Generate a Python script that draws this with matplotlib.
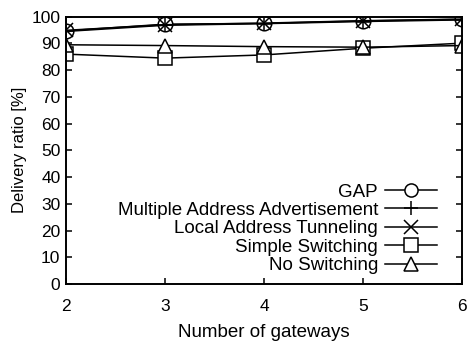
import matplotlib
matplotlib.use("Agg")
import matplotlib.pyplot as plt

plt.rcParams['font.family'] = ['Liberation Sans', 'DejaVu Sans']

# Number of gateways and delivery ratio per scheme
gateways = [2, 3, 4, 5, 6]
gap = [94.7, 97.2, 97.5, 98.4, 99.0]
multi_addr = [94.5, 96.8, 97.4, 98.2, 98.8]
local_tunnel = [94.9, 97.0, 97.6, 98.5, 99.1]
simple_switch = [86.0, 84.5, 85.7, 88.2, 90.1]
no_switch = [89.5, 89.2, 88.8, 88.6, 89.2]

labels = ['GAP', 'Multiple Address Advertisement', 'Local Address Tunneling',
          'Simple Switching', 'No Switching']
markers = ['o', '+', 'x', 's', '^']
series = [gap, multi_addr, local_tunnel, simple_switch, no_switch]

W, H = 471, 342
left, right, bottom, top = 66, 462, 284, 16.7
fig = plt.figure(figsize=(W / 100, H / 100), dpi=100)
ax = fig.add_axes([left / W, 1 - bottom / H, (right - left) / W, (bottom - top) / H])

for vals, m, lab in zip(series, markers, labels):
    ax.plot(gateways, vals, color='black', linewidth=1.1, marker=m, markersize=10.5,
            markerfacecolor='white', markeredgecolor='black', markeredgewidth=1.1,
            label=lab)

ax.set_xlim(2, 6)
ax.set_ylim(0, 100)
ax.set_xticks(gateways)
ax.set_yticks(range(0, 101, 10))
ax.tick_params(direction='in', top=True, right=True, length=4, width=1.1, labelsize=12.5)
ax.tick_params(axis='x', pad=11)
ax.tick_params(axis='y', pad=4)
for s in ax.spines.values():
    s.set_linewidth(1.4)

ax.set_xlabel('Number of gateways', fontsize=13.5, labelpad=7)
ax.set_ylabel('Delivery ratio [%]', fontsize=12, labelpad=3)

ax.legend(loc='lower right', bbox_to_anchor=(0.957, 0.008), frameon=False,
          markerfirst=False, fontsize=13.5, handlelength=2.8, labelspacing=0.07,
          borderaxespad=0, handletextpad=0.37, markerscale=0.9)

fig.savefig('out.png', dpi=100)
